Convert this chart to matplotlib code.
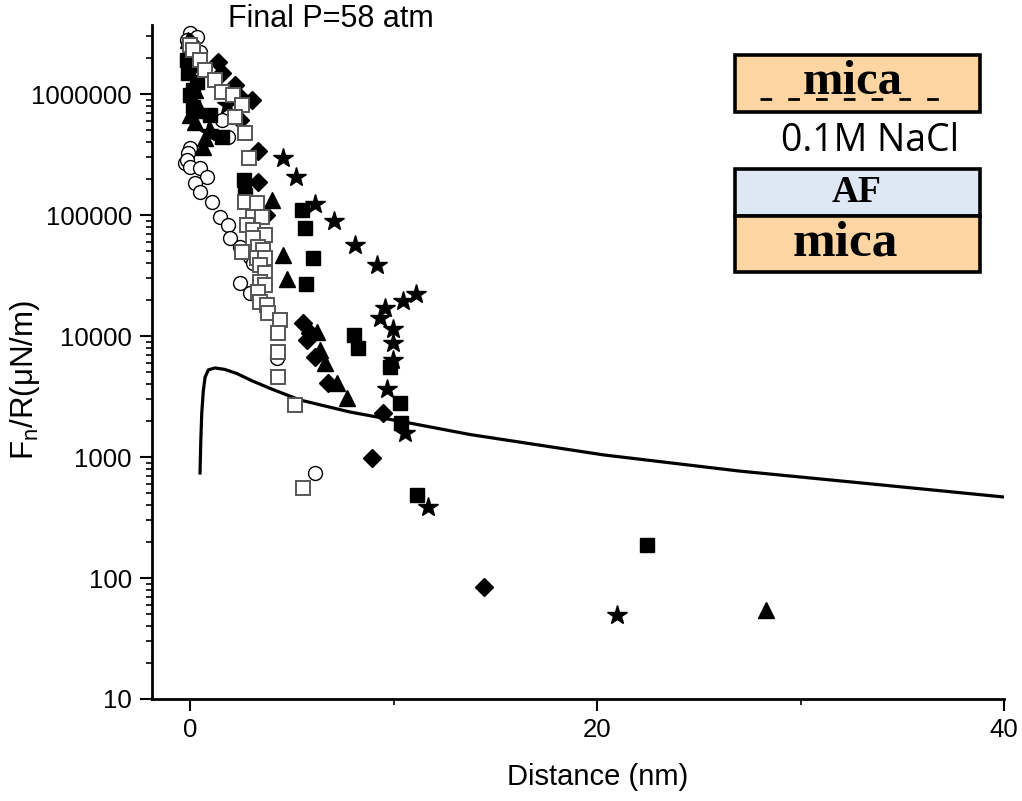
import matplotlib.pyplot as plt
from matplotlib.patches import Rectangle
from matplotlib.lines import Line2D
from matplotlib.ticker import FixedLocator, NullFormatter

plt.rcParams['font.family'] = ['Liberation Sans', 'DejaVu Sans']

# --- data ---
# open circles
circ_x = [0.0, 0.34, -0.15, 0.10, 0.49, 1.57, 1.87, 0.0, -0.10, -0.25, -0.15, 0.0, 0.49,
          0.84, 0.25, 0.49, 1.08, 1.47, 1.87, 1.97, 2.46, 2.95, 3.10, 2.46, 2.95, 4.28, 6.14]
circ_y = [3.19e6, 2.96e6, 2.79e6, 2.54e6, 2.22e6, 6.1e5, 4.4e5, 3.6e5, 3.25e5, 2.7e5, 2.85e5,
          2.5e5, 2.45e5, 2.06e5, 1.84e5, 1.55e5, 1.28e5, 9.6e4, 8.3e4, 6.5e4, 5.4e4, 4.5e4,
          4.0e4, 2.74e4, 2.27e4, 6.6e3, 740]

# open squares
osq_x = [0.0, 0.15, 0.49, 0.74, 1.23, 1.57, 2.11, 2.56, 2.21, 2.70, 2.90, 2.70, 3.29, 3.10,
         3.54, 2.80, 3.10, 3.69, 3.10, 3.34, 2.56, 3.59, 3.29, 3.69, 3.44, 3.69, 3.44, 3.69,
         3.34, 3.44, 3.78, 3.83, 4.42, 4.32, 4.32, 4.32, 5.16, 5.55]
osq_y = [2.54e6, 2.31e6, 1.91e6, 1.58e6, 1.31e6, 1.04e6, 9.8e5, 8.1e5, 6.5e5, 4.8e5, 2.96e5,
         1.28e5, 1.26e5, 9.6e4, 9.6e4, 8.3e4, 7.5e4, 6.8e4, 6.5e4, 5.4e4, 4.95e4, 5.1e4, 4.4e4,
         4.4e4, 3.86e4, 3.3e4, 2.8e4, 2.64e4, 2.31e4, 1.91e4, 1.80e4, 1.55e4, 1.36e4, 1.06e4,
         7.4e3, 4.6e3, 2.7e3, 555]

# filled squares
fsq_x = [-0.15, 0.10, 0.25, -0.10, 0.34, 0.15, 0.0, 0.15, 0.98, 1.57, 2.65, 2.70, 5.50, 5.65,
         6.04, 5.70, 8.06, 8.26, 9.83, 10.32, 10.37, 11.15, 22.46]
fsq_y = [1.91e6, 2.18e6, 1.75e6, 1.49e6, 1.26e6, 1.08e6, 9.8e5, 7.8e5, 6.7e5, 4.4e5, 1.95e5,
         1.46e5, 1.10e5, 7.8e4, 4.4e4, 2.69e4, 1.02e4, 8.0e3, 5.5e3, 2.8e3, 1.91e3, 485, 188]

# filled diamonds
dia_x = [0.0, 1.38, 1.57, 2.21, 2.36, 3.05, 2.46, 3.34, 3.34, 3.73, 5.55, 5.90, 5.75, 6.14,
         6.78, 9.48, 8.94, 14.45]
dia_y = [2.7e6, 1.85e6, 1.49e6, 1.19e6, 9.8e5, 8.9e5, 6.1e5, 3.4e5, 1.87e5, 1.0e5, 1.28e4,
         1.06e4, 9.3e3, 6.7e3, 4.1e3, 2.3e3, 980, 84]

# filled triangles
tri_x = [-0.10, 0.25, 0.0, 0.49, 0.25, 0.98, 0.74, 0.64, 4.03, 4.57, 4.77, 6.24, 6.39, 6.63,
         7.22, 7.71, 28.30]
tri_y = [2.79e6, 1.08e6, 6.7e5, 7.4e5, 5.9e5, 5.0e5, 4.3e5, 3.65e5, 1.33e5, 4.7e4, 2.96e4,
         1.08e4, 7.7e3, 6.0e3, 4.1e3, 3.1e3, 54]

# filled stars
star_x = [0.88, 1.82, 4.57, 5.21, 6.14, 7.08, 8.11, 9.19, 10.47, 11.11, 9.58, 9.34, 9.98,
          9.98, 9.98, 9.68, 10.57, 11.70, 20.98]
star_y = [4.85e5, 8.1e5, 2.96e5, 2.06e5, 1.23e5, 8.9e4, 5.65e4, 3.9e4, 1.95e4, 2.22e4,
          1.70e4, 1.41e4, 1.14e4, 8.7e3, 6.3e3, 3.65e3, 1.58e3, 386, 49]

# theoretical curve
model_x = [0.49, 0.53, 0.575, 0.65, 0.74, 0.90, 1.23, 1.70, 2.30, 3.00, 4.00, 5.41, 7.86,
           10.5, 13.76, 20.34, 26.98, 33.0, 40.0]
model_y = [738, 1400, 2311, 3500, 4580, 5250, 5445, 5300, 4900, 4300, 3650, 2958, 2355,
           1950, 1534, 1040, 766, 610, 467]

y_ticks = [10, 100, 1000, 10000, 100000, 1000000]
y_tick_labels = ['10', '100', '1000', '10000', '100000', '1000000']
x_ticks = [0, 20, 40]

W, H = 1022, 801
fig = plt.figure(figsize=(W / 100, H / 100), dpi=100)
ax = fig.add_axes([152 / W, 1 - 699 / H, (1004 - 152) / W, (699 - 25) / H])

ax.plot(model_x, model_y, color='black', lw=2.3, zorder=1)
ax.plot(circ_x, circ_y, 'o', ms=10, mfc='white', mec='black', mew=1.0, ls='none', zorder=2)
ax.plot(fsq_x, fsq_y, 's', ms=9.5, color='black', ls='none', zorder=3)
ax.plot(tri_x, tri_y, '^', ms=11, color='black', ls='none', zorder=3)
ax.plot(dia_x, dia_y, 'D', ms=9.5, color='black', ls='none', zorder=3)
ax.plot(star_x, star_y, '*', ms=15, color='black', ls='none', zorder=3)
ax.plot(osq_x, osq_y, 's', ms=9.5, mfc='white', mec='#555555', mew=1.4, ls='none', zorder=4)

ax.set_yscale('log')
ax.set_xlim(-1.87, 40)
ax.set_ylim(10, 3.72e6)

for s in ['top', 'right']:
    ax.spines[s].set_visible(False)
for s in ['left', 'bottom']:
    ax.spines[s].set_linewidth(2.0)

ax.yaxis.set_major_locator(FixedLocator(y_ticks))
ax.set_yticklabels(y_tick_labels)
minor = [m * 10 ** e for e in range(1, 7) for m in range(2, 10)]
ax.yaxis.set_minor_locator(FixedLocator(minor))
ax.yaxis.set_minor_formatter(NullFormatter())
ax.set_xticks(x_ticks)
ax.set_xticks([10, 30], minor=True)

ax.tick_params(which='major', direction='out', length=8.5, width=1.5, labelsize=18.5)
ax.tick_params(axis='y', which='major', pad=6)
ax.tick_params(axis='x', which='major', pad=5)
ax.tick_params(which='minor', direction='out', length=4.5, width=1.2)

ax.set_xlabel('Distance (nm)', fontsize=21)
ax.xaxis.set_label_coords((598 - 152) / 852, (699 - 763) / 674)
ax.set_ylabel('F$_\\mathregular{n}$/R(\u03bcN/m)', fontsize=22.5)
ax.yaxis.set_label_coords((42 - 152) / 852, (699 - 380) / 674)

fig.text(228 / W, 1 - 19 / H, 'Final P=58 atm', fontsize=22, ha='left', va='center')


def fx(px):
    return px / W


def fy(py):
    return 1 - py / H


orange = '#FCD5A2'
blue = '#DEE8F5'
# top mica block
fig.add_artist(Rectangle((fx(735), fy(112)), fx(980) - fx(735), fy(55) - fy(112),
                         facecolor=orange, edgecolor='black', lw=2.6))
fig.add_artist(Line2D([fx(760), fx(952)], [fy(99), fy(99)], color='black', lw=2.0,
                      linestyle=(0, (4.2, 5.8))))
fig.text(fx(853), fy(82), 'mica', fontsize=35, fontweight='bold',
         family=['Liberation Serif', 'DejaVu Serif'], ha='center', va='center')

fig.text(fx(870), fy(141), '0.1M NaCl', fontsize=27, family=['Open Sans', 'DejaVu Sans'],
         ha='center', va='center')

# AF on mica
fig.add_artist(Rectangle((fx(735), fy(216)), fx(980) - fx(735), fy(169) - fy(216),
                         facecolor=blue, edgecolor='black', lw=2.6))
fig.add_artist(Rectangle((fx(735), fy(272)), fx(980) - fx(735), fy(216) - fy(272),
                         facecolor=orange, edgecolor='black', lw=2.6))
fig.text(fx(857), fy(193), 'AF', fontsize=27, fontweight='bold',
         family=['Liberation Serif', 'DejaVu Serif'], ha='center', va='center')
fig.text(fx(845), fy(243), 'mica', fontsize=37, fontweight='bold',
         family=['Liberation Serif', 'DejaVu Serif'], ha='center', va='center')

fig.savefig('out.png', dpi=100)
